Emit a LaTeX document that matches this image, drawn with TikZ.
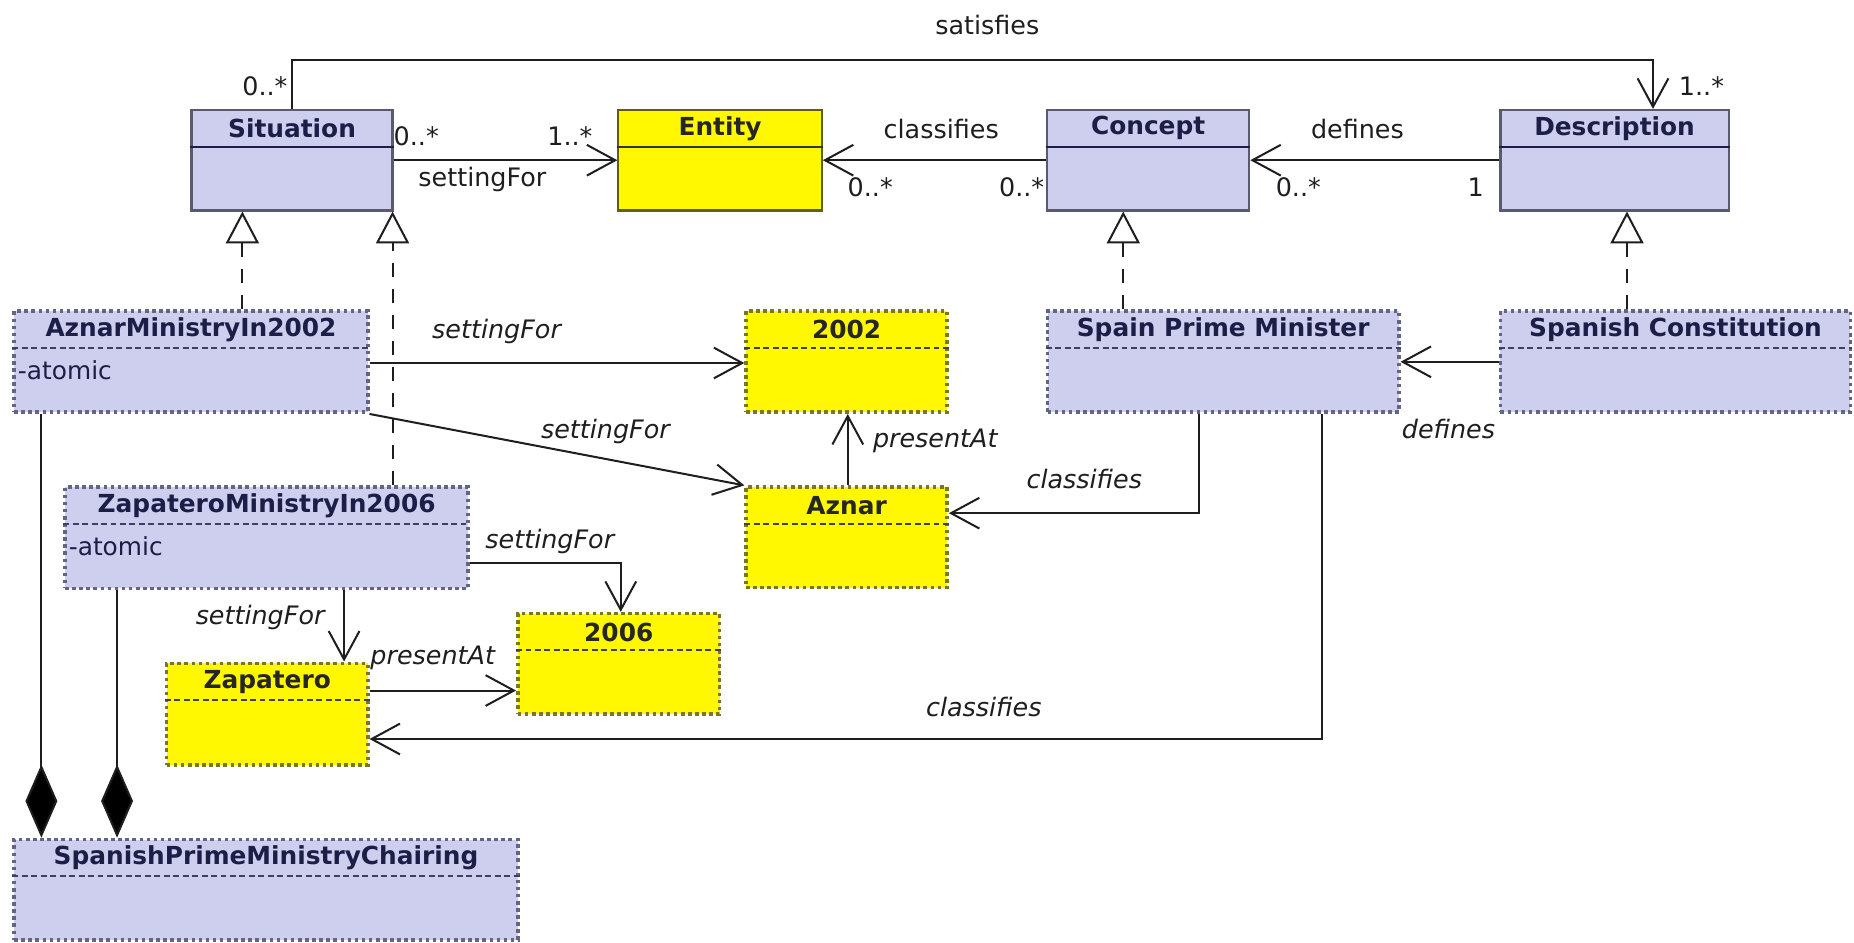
\documentclass[tikz,border=0pt]{standalone}
\usepackage{fontspec}
\setmainfont{DejaVu Sans}
\usetikzlibrary{arrows.meta}
\definecolor{lav}{RGB}{206,206,238}
\definecolor{yel}{RGB}{255,248,0}
\definecolor{clsborder}{RGB}{90,90,110}
\definecolor{navy}{RGB}{28,30,72}
\definecolor{entborder}{RGB}{95,95,20}
\definecolor{instborder}{RGB}{100,100,135}
\definecolor{yborder}{RGB}{120,120,35}
\definecolor{ink}{RGB}{30,30,30}
\begin{document}
\begin{tikzpicture}[x=1pt,y=-1pt,
  every node/.style={font=\fontsize{21}{25}\selectfont, inner sep=0pt},
  clsbox/.style={draw=clsborder, fill=lav, line width=1.8pt},
  entbox/.style={draw=entborder, fill=yel, line width=1.8pt},
  instbox/.style={draw=instborder, fill=lav, line width=3pt, dash pattern=on 3pt off 3pt},
  yinstbox/.style={draw=yborder, fill=yel, line width=3pt, dash pattern=on 3pt off 3pt},
  clsdiv/.style={draw=navy, line width=1.8pt},
  entdiv/.style={draw=black!80, line width=1.8pt},
  instdiv/.style={draw=navy!85, line width=1.8pt, dash pattern=on 5pt off 3pt},
  ydiv/.style={draw=black!75, line width=1.8pt, dash pattern=on 5pt off 3pt},
  ttl/.style={font=\fontsize{21}{25}\selectfont\bfseries, text=navy},
  yttl/.style={font=\fontsize{21}{25}\selectfont\bfseries, text=black!85},
  attr/.style={font=\fontsize{21}{25}\selectfont, text=navy, anchor=west},
  lbl/.style={font=\fontsize{21.5}{25}\selectfont, text=ink},
  ilbl/.style={font=\fontsize{21.5}{25}\selectfont\itshape, text=ink},
  conn/.style={draw=ink, line width=1.7pt},
  opn/.style={conn, -{Straight Barb[length=24pt,width=26pt,line width=1.7pt]}},
  gen/.style={draw=ink, line width=1.7pt, dash pattern=on 12pt off 10pt, -{Triangle[open,length=27pt,width=28pt,fill=white,line width=1.7pt]}},
  comp/.style={conn, -{Diamond[length=62pt,width=27pt,fill=black]}}
]
\useasboundingbox (0,0) rectangle (1568,797);

% ---------- class boxes ----------
\node[clsbox, minimum width=170pt, minimum height=85pt] (situation) at (247,135.5) {};
\draw[clsdiv] (situation.west |- 0,124) -- (situation.east |- 0,124);
\node[ttl] (situationT) at (247,108.5) {Situation};

\node[entbox, minimum width=172pt, minimum height=85pt] (entity) at (609,135.5) {};
\draw[entdiv] (entity.west |- 0,124) -- (entity.east |- 0,124);
\node[yttl] (entityT) at (609,108.5) {Entity};

\node[clsbox, minimum width=171pt, minimum height=85pt] (concept) at (971,135.5) {};
\draw[clsdiv] (concept.west |- 0,124) -- (concept.east |- 0,124);
\node[ttl] (conceptT) at (971,108.5) {Concept};

\node[clsbox, minimum width=193pt, minimum height=85pt] (description) at (1365.5,135.5) {};
\draw[clsdiv] (description.west |- 0,124) -- (description.east |- 0,124);
\node[ttl] (descriptionT) at (1365.5,108.5) {Description};

% ---------- instance boxes ----------
\node[instbox, minimum width=299pt, minimum height=85.6pt] (am) at (161.5,305.8) {};
\draw[instdiv] (am.west |- 0,294) -- (am.east |- 0,294);
\node[ttl] (amT) at (161.5,279) {AznarMinistryIn2002};
\node[attr] (amA) at (15,313) {-atomic};

\node[yinstbox, minimum width=170pt, minimum height=85.6pt] (y2002) at (716,305.8) {};
\draw[ydiv] (y2002.west |- 0,294) -- (y2002.east |- 0,294);
\node[yttl] (y2002T) at (716,279) {2002};

\node[instbox, minimum width=297pt, minimum height=85.6pt] (spm) at (1034.5,305.8) {};
\draw[instdiv] (spm.west |- 0,294) -- (spm.east |- 0,294);
\node[ttl] (spmT) at (1034.5,279) {Spain Prime Minister};

\node[instbox, minimum width=296pt, minimum height=85.6pt] (sc) at (1417,305.8) {};
\draw[instdiv] (sc.west |- 0,294) -- (sc.east |- 0,294);
\node[ttl] (scT) at (1417,279) {Spanish Constitution};

\node[instbox, minimum width=341pt, minimum height=85.6pt] (zm) at (225.5,454.8) {};
\draw[instdiv] (zm.west |- 0,443) -- (zm.east |- 0,443);
\node[ttl] (zmT) at (225.5,428) {ZapateroMinistryIn2006};
\node[attr] (zmA) at (58,462) {-atomic};

\node[yinstbox, minimum width=170pt, minimum height=85pt] (aznar) at (716,454.5) {};
\draw[ydiv] (aznar.west |- 0,443) -- (aznar.east |- 0,443);
\node[yttl] (aznarT) at (716,428) {Aznar};

\node[yinstbox, minimum width=170.7pt, minimum height=85pt] (y2006) at (523.3,561.5) {};
\draw[ydiv] (y2006.west |- 0,550) -- (y2006.east |- 0,550);
\node[yttl] (y2006T) at (523.3,534.5) {2006};

\node[yinstbox, minimum width=170pt, minimum height=86pt] (zapatero) at (226,604) {};
\draw[ydiv] (zapatero.west |- 0,592) -- (zapatero.east |- 0,592);
\node[yttl] (zapateroT) at (226,577) {Zapatero};

\node[instbox, minimum width=426pt, minimum height=85pt] (spmc) at (225,752.5) {};
\draw[instdiv] (spmc.west |- 0,741) -- (spmc.east |- 0,741);
\node[ttl] (spmcT) at (225,725.5) {SpanishPrimeMinistryChairing};

% ---------- class-level connectors ----------
\draw[opn] (situation.north) |- (1398,51) -- (description.north -| 1398,0);
\node[lbl] (satL) at (835,21) {satisfies};
\node[lbl] (satM1) at (224,73) {0..*};
\node[lbl] (satM2) at (1439,73) {1..*};

\draw[opn] (situation.east) -- (entity.west);
\node[lbl] (sfM1) at (352,115) {0..*};
\node[lbl] (sfM2) at (482,115) {1..*};
\node[lbl] (sfL) at (408,152) {settingFor};

\draw[opn] (concept.west) -- (entity.east);
\node[lbl] (clL) at (796,109) {classifies};
\node[lbl] (clM1) at (736,158) {0..*};
\node[lbl] (clM2) at (864,158) {0..*};

\draw[opn] (description.west) -- (concept.east);
\node[lbl] (dfL) at (1148,109) {defines};
\node[lbl] (dfM1) at (1098,158) {0..*};
\node[lbl] (dfM2) at (1248,158) {1};

% ---------- generalizations ----------
\draw[gen] (am.north -| 205,0) -- (situation.south -| 205,0);
\draw[gen] (zm.north -| 332,0) -- (situation.south -| 332,0);
\draw[gen] (spm.north -| 950,0) -- (concept.south -| 950,0);
\draw[gen] (sc.north -| 1376,0) -- (description.south -| 1376,0);

% ---------- instance-level connectors ----------
\draw[opn] (am.east |- 0,307) -- (y2002.west |- 0,307);
\node[ilbl] (l1) at (420,280) {settingFor};

\draw[opn] (am.south east) -- (aznar.north west);
\node[ilbl] (l2) at (512,365) {settingFor};

\draw[opn] (aznar.north -| 717,0) -- (y2002.south -| 717,0);
\node[ilbl] (l3) at (791,373) {presentAt};

\draw[opn] (spm.south -| 1014,0) |- (aznar.east |- 0,434);
\node[ilbl] (l4) at (917,405) {classifies};

\draw[opn] (sc.west |- 0,306) -- (spm.east |- 0,306);
\node[ilbl] (l5) at (1225,363) {defines};

\draw[opn] (zm.east |- 0,476) -| (y2006.north -| 525,0);
\node[ilbl] (l6) at (465,458) {settingFor};

\draw[opn] (zm.south -| 291,0) -- (zapatero.north -| 291,0);
\node[ilbl] (l7) at (220,522) {settingFor};

\draw[opn] (zapatero.east |- 0,584) -- (y2006.west |- 0,584);
\node[ilbl] (l8) at (366,556) {presentAt};

\draw[opn] (spm.south -| 1118,0) |- (zapatero.east |- 0,625);
\node[ilbl] (l9) at (832,598) {classifies};

% ---------- compositions ----------
\draw[comp] (am.south -| 35,0) -- (spmc.north -| 35,0);
\draw[comp] (zm.south -| 99,0) -- (spmc.north -| 99,0);
\end{tikzpicture}
\end{document}
